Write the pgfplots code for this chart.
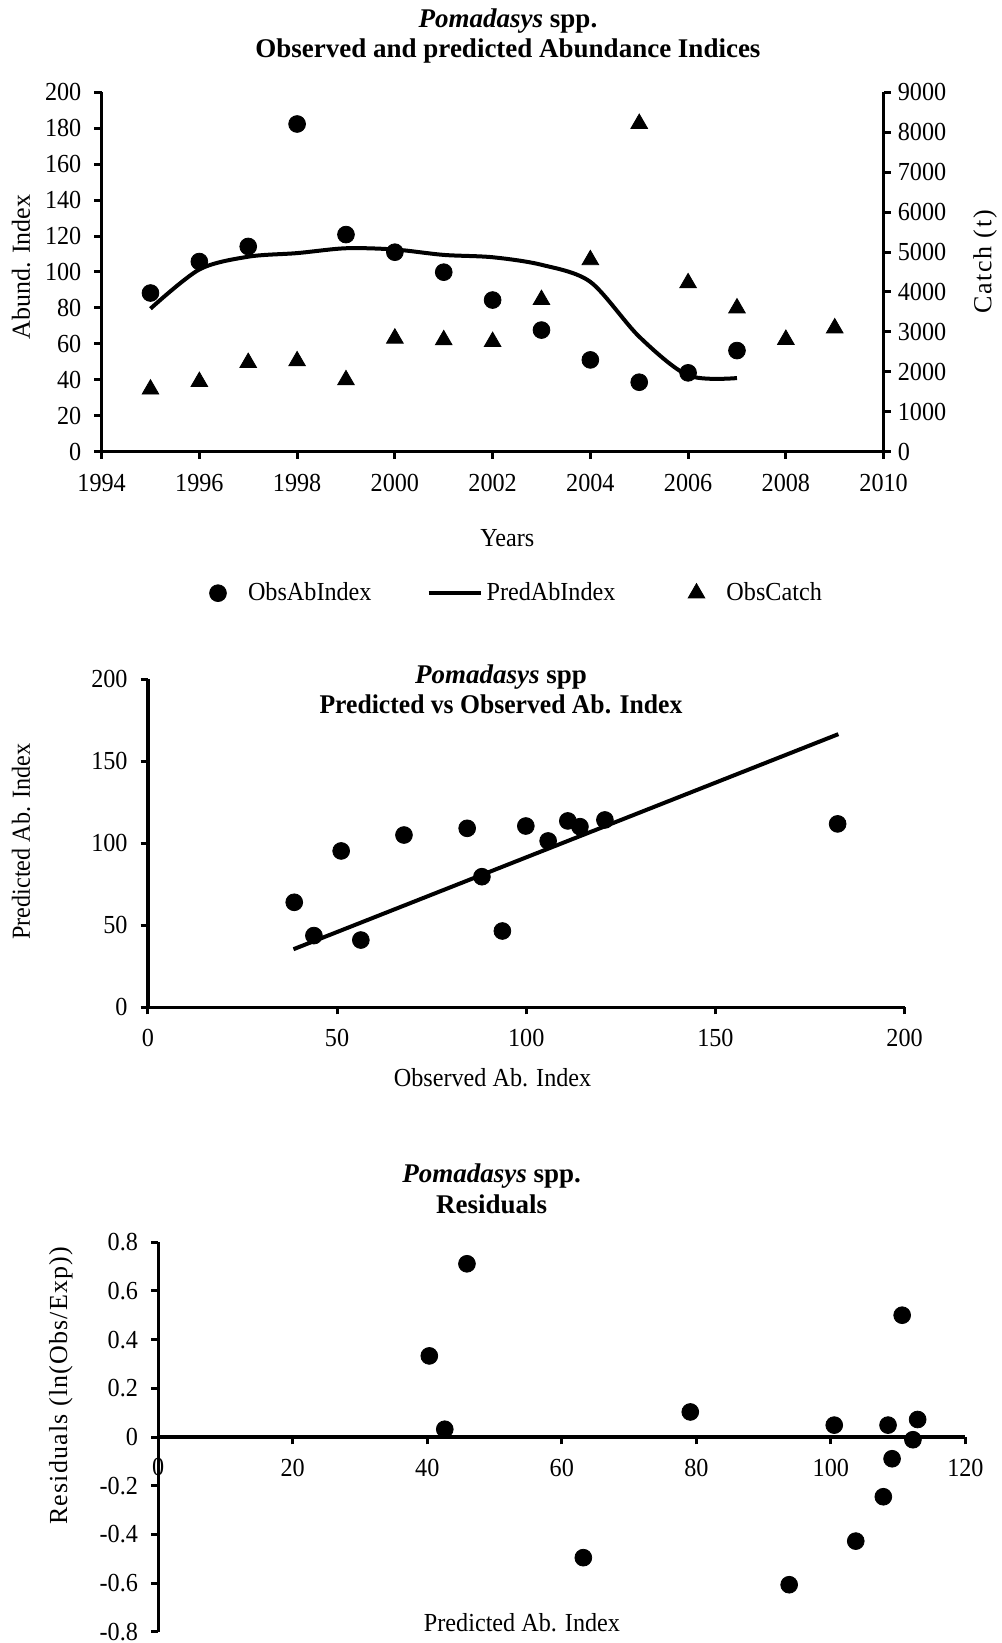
\documentclass[border=0pt]{standalone}
\usepackage{fontspec}
\setmainfont{Liberation Serif}[FakeStretch=0.93]
\newfontfamily\plainfont{Liberation Serif}
\newfontfamily\widefont{Liberation Serif}[LetterSpace=6.5]
\newfontfamily\semiwide{Liberation Serif}[LetterSpace=4.5]
\usepackage{pgfplots}
\pgfplotsset{compat=1.18}

\newcommand\lab{\fontsize{13}{15}\selectfont}
\newcommand\ttl{\plainfont\fontsize{13.5}{15}\selectfont\bfseries}

\pgfplotsset{
  rk/.style={
    scale only axis,
    anchor=south west,
    axis line style={-, line width=1.7pt},
    every inner x axis line/.append style={-},
    every outer x axis line/.append style={-},
    every inner y axis line/.append style={-},
    every outer y axis line/.append style={-},
    tick style={line width=1.5pt, black},
    major tick length=3.6pt,
    tick align=outside,
    tick label style={font=\lab},
    /pgf/number format/assume math mode=true,
    /pgf/number format/1000 sep={},
    clip=false,
  },
  dots/.style={only marks, mark=*, mark size=4.2pt, black},
}

\begin{document}
\begin{tikzpicture}
\useasboundingbox (0,0) rectangle (500.5pt,821.5pt);

% ---- observed and predicted abundance indices
\begin{axis}[rk, at={(50.8pt,595.6pt)}, width=391pt, height=179.8pt,
  xmin=1994, xmax=2010, ymin=0, ymax=200,
  axis x line*=bottom, axis y line*=left,
  xtick={1994,1996,...,2010}, ytick={0,20,...,200},
  xticklabel style={yshift=-4pt}, yticklabel style={xshift=-3pt},
  legend columns=3,
  legend style={at={(0.1156,-0.3932)}, anchor=west, draw=none, fill=none,
    inner sep=0pt, outer sep=0pt, font=\lab, nodes={inner sep=0.5pt},
    /tikz/every odd column/.append style={column sep=1.5pt},
    /tikz/every even column/.append style={column sep=27pt}},
  legend image code/.code={\path[draw=none, fill=none] (0pt,-1pt) rectangle (26pt,1pt);
    \draw[#1, mark repeat=2, mark phase=2]
    plot coordinates {(0pt,0pt) (13pt,0pt) (26pt,0pt)};},
]
\addplot[dots] coordinates {
  (1995,88.3) (1996,105.8) (1997,114.2) (1998,182.3) (1999,120.8)
  (2000,111.0) (2001,99.9) (2002,84.4) (2003,67.7) (2004,51.1)
  (2005,38.7) (2006,43.9) (2007,56.3)
};
\addlegendentry{ObsAbIndex}
\addplot[black, line width=2pt, smooth, tension=0.5, mark=none] coordinates {
  (1995,79.6) (1996,101.4) (1997,108.5) (1998,110.5) (1999,113.2)
  (2000,112.5) (2001,109.5) (2002,108.2) (2003,104.0) (2004,94.5)
  (2005,64.0) (2006,42.5) (2007,41.0)
};
\addlegendentry{PredAbIndex}
\addlegendimage{only marks, mark=triangle*, mark size=4.8pt, black}
\addlegendentry{ObsCatch}
\end{axis}

\begin{axis}[rk, at={(50.8pt,595.6pt)}, width=391pt, height=179.8pt,
  xmin=1994, xmax=2010, ymin=0, ymax=9000,
  axis x line=none, axis y line*=right,
  ytick={0,1000,...,9000}]
\addplot[only marks, mark=triangle*, mark size=4.8pt, black] coordinates {
  (1995,1564) (1996,1754) (1997,2230) (1998,2272) (1999,1797)
  (2000,2840) (2001,2798) (2002,2755) (2003,3805) (2004,4802)
  (2005,8213) (2006,4225) (2007,3595) (2008,2808) (2009,3096)
};
\end{axis}

\node[anchor=base, font=\ttl] at (254pt,807.5pt) {\textit{Pomadasys} spp.};
\node[anchor=base, font=\ttl] at (254pt,792.5pt) {Observed and predicted Abundance Indices};
\node[anchor=base, font=\lab] at (253.7pt,548pt) {Years};
\node[rotate=90, font=\plainfont\lab] at (10.5pt,687.9pt) {Abund. Index};
\node[rotate=90, font=\widefont\lab] at (492.6pt,690.5pt) {Catch (t)};

% ---- predicted vs observed
\begin{axis}[rk, at={(73.9pt,317.85pt)}, width=378.4pt, height=164.05pt,
  xmin=0, xmax=200, ymin=0, ymax=200,
  axis x line*=bottom, axis y line*=left,
  xtick={0,50,...,200}, ytick={0,50,...,200},
  xticklabel style={yshift=-4pt}, yticklabel style={xshift=-3pt}]
\addplot[dots] coordinates {
  (38.7,64.0) (43.9,43.7) (51.1,95.3) (56.3,41.0) (67.7,105.0)
  (84.4,109.1) (88.3,79.6) (93.7,46.5) (99.9,110.5) (105.8,101.4)
  (111.0,113.6) (114.2,110.1) (120.8,114.2) (182.3,111.8)
};
\addplot[black, line width=2pt, mark=none] coordinates {(38.5,35.4) (182.5,166.5)};
\end{axis}

\node[anchor=base, font=\ttl] at (250.5pt,479.8pt) {\textit{Pomadasys} spp};
\node[anchor=base, font=\ttl, xscale=0.95] at (250.5pt,464.6pt) {Predicted vs Observed Ab. Index};
\node[anchor=base, font=\lab] at (246.3pt,278pt) {Observed Ab. Index};
\node[rotate=90, font=\lab] at (10.5pt,400.7pt) {Predicted Ab. Index};

% ---- residuals
\begin{axis}[rk, at={(79.1pt,5.5pt)}, width=403.6pt, height=194.95pt,
  xmin=0, xmax=120, ymin=-0.8, ymax=0.8,
  axis x line*=middle, axis y line*=left,
  axis line style={-, line width=1.7pt},
  xtick={0,20,...,120}, ytick={-0.8,-0.6,-0.4,-0.2,0,0.2,0.4,0.6,0.8},
  xticklabel style={yshift=-4pt}, yticklabel style={xshift=-3pt},
  yticklabel style={/pgf/number format/fixed, /pgf/number format/precision=1}]
\addplot[dots] coordinates {
  (40.3,0.333) (42.6,0.032) (45.9,0.711) (63.2,-0.495) (79.1,0.103)
  (93.8,-0.606) (100.5,0.049) (103.7,-0.427) (107.8,-0.245) (108.5,0.049)
  (109.1,-0.089) (110.6,0.50) (112.2,-0.011) (112.9,0.072)
};
\node[font=\lab] at (axis cs:0,-0.122) {0};
\end{axis}

\node[anchor=base, font=\ttl] at (245.8pt,230.3pt) {\textit{Pomadasys} spp.};
\node[anchor=base, font=\ttl] at (245.8pt,214.8pt) {Residuals};
\node[anchor=base, font=\lab] at (261pt,5.5pt) {Predicted Ab. Index};
\node[rotate=90, font=\semiwide\lab] at (30.4pt,128.6pt) {Residuals (ln(Obs/Exp))};
\end{tikzpicture}
\end{document}
